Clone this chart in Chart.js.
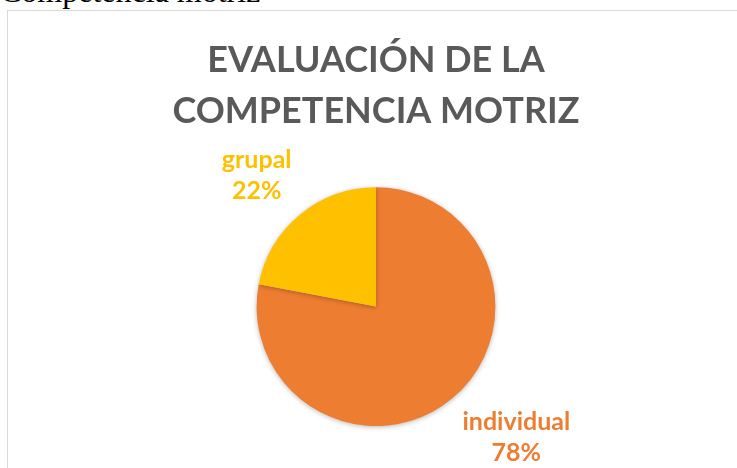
<!DOCTYPE html>
<html>
<head>
<meta charset="utf-8">
<script src="https://cdn.jsdelivr.net/npm/chart.js@4"></script>
<style>
  html, body { margin: 0; padding: 0; width: 737px; height: 468px; overflow: hidden; background: #fff; }
  #caption { position: absolute; left: 0; top: -25px; font: 32px/1 "Liberation Serif", "Times New Roman", serif; color: #000; white-space: nowrap; }
  #frame { position: absolute; left: 7px; top: 10px; width: 780px; height: 500px; border: 1px solid #d9d9d9; }
  #wrap { position: absolute; left: 8px; top: 11px; width: 736px; height: 457px; }
</style>
</head>
<body>
<div id="caption">Competencia motriz</div>
<div id="frame"></div>
<div id="wrap"><canvas id="pie"></canvas></div>
<script>
// chart data
const categories = ['individual', 'grupal'];
const shares = [78, 22];
const sliceColors = ['#ED7D31', '#FFC000'];
const titleLines = ['EVALUACIÓN DE LA', 'COMPETENCIA MOTRIZ'];

// soft drop shadow under the pie, like the office default
const pieShadow = {
    id: 'pieShadow',
    beforeDatasetsDraw(chart) {
        const ctx = chart.ctx;
        ctx.save();
        ctx.shadowColor = 'rgba(0, 0, 0, 0.28)';
        ctx.shadowBlur = 5;
        ctx.shadowOffsetX = 0;
        ctx.shadowOffsetY = 1;
    },
    afterDatasetsDraw(chart) {
        chart.ctx.restore();
    }
};

// outside labels: category name + percentage, coloured like the slice
const outsideLabels = {
    id: 'outsideLabels',
    afterDatasetsDraw(chart) {
        const ctx = chart.ctx;
        const meta = chart.getDatasetMeta(0);
        const total = shares.reduce((a, b) => a + b, 0);
        const lineH = 31;
        ctx.save();
        ctx.font = 'bold 25px Lato, "Open Sans", sans-serif';
        ctx.textBaseline = 'middle';
        ctx.textAlign = 'center';
        meta.data.forEach((arc, i) => {
            const p = arc.getProps(['x', 'y', 'startAngle', 'endAngle', 'outerRadius'], true);
            const mid = (p.startAngle + p.endAngle) / 2;
            const cos = Math.cos(mid), sin = Math.sin(mid);
            const ax = p.x + (p.outerRadius + 10) * cos;
            const ay = p.y + (p.outerRadius + 10) * sin;
            const lines = [categories[i], Math.round(shares[i] / total * 100) + '%'];
            const w = Math.max(...lines.map(t => ctx.measureText(t).width));
            const h = lines.length * lineH;
            const left = cos >= 0 ? ax + 4 : ax - w - 2;
            const top = sin >= 0 ? ay : ay - h;
            ctx.fillStyle = sliceColors[i];
            lines.forEach((t, k) => {
                ctx.fillText(t, left + w / 2, top + lineH * (k + 0.5));
            });
        });
        ctx.restore();
    }
};

new Chart(document.getElementById('pie'), {
    type: 'pie',
    data: {
        labels: categories,
        datasets: [{
            data: shares,
            backgroundColor: sliceColors,
            borderWidth: 0,
            hoverOffset: 0
        }]
    },
    options: {
        responsive: true,
        maintainAspectRatio: false,
        animation: false,
        layout: { padding: { bottom: 42 } },
        plugins: {
            legend: { display: false },
            tooltip: { enabled: false },
            title: {
                display: true,
                text: titleLines,
                color: '#595959',
                font: { family: 'Lato, "Open Sans", sans-serif', size: 36, weight: 'bold', lineHeight: 1.42 },
                padding: { top: 24, bottom: 50 }
            }
        }
    },
    plugins: [pieShadow, outsideLabels]
});
</script>
</body>
</html>
